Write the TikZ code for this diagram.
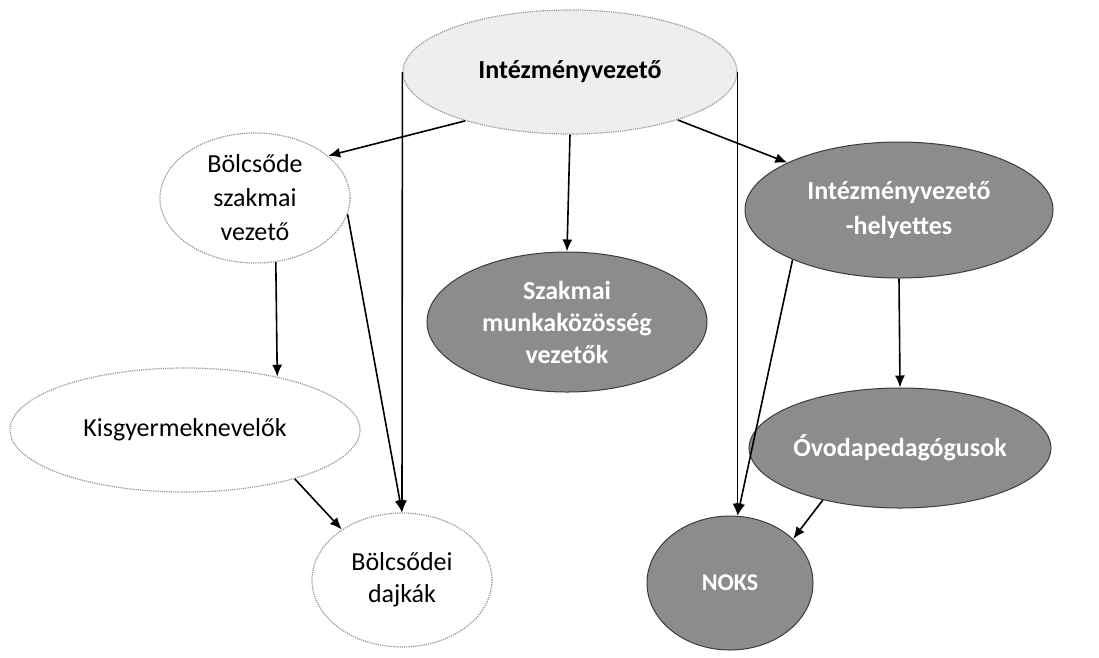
\documentclass[tikz,border=0pt]{standalone}
\usepackage{fontspec}
\setmainfont{Carlito}
\usetikzlibrary{shapes.geometric,arrows.meta}
\definecolor{nodegray}{RGB}{140,140,140}
\definecolor{edgegray}{RGB}{60,60,60}
\definecolor{dotgray}{RGB}{150,150,150}
\definecolor{topfill}{RGB}{238,238,238}
\tikzset{
  base/.style={ellipse, inner sep=0pt, align=center, font=\fontsize{26}{34}\selectfont},
  whitebox/.style={base, draw=dotgray, densely dotted, line width=1.2pt, fill=white, text=black},
  topbox/.style={base, draw=dotgray, densely dotted, line width=1.2pt, fill=topfill, text=black, font=\fontsize{26}{34}\selectfont\bfseries},
  graybox/.style={base, draw=edgegray, line width=1pt, fill=nodegray, text=white, font=\fontsize{26}{32}\selectfont\bfseries},
  conn/.style={draw=black, line width=1.6pt, -{Latex[length=12pt,width=10pt]}},
}
\begin{document}
\begin{tikzpicture}[x=1pt,y=-1pt]
\useasboundingbox (0,0) rectangle (1099,657);
\node[topbox, minimum width=334pt, minimum height=124pt] (iv) at (570,72) {Intézményvezető};
\node[whitebox, minimum width=190pt, minimum height=130pt] (bsv) at (255,198) {Bölcsőde\\szakmai\\vezető};
\node[graybox, minimum width=280pt, minimum height=140pt] (szm) at (567,322) {Szakmai\\munkaközösség\\vezetők};
\node[graybox, minimum width=308pt, minimum height=136pt, font=\fontsize{26}{35}\selectfont\bfseries] (ivh) at (899,210) {Intézményvezető\\-helyettes};
\node[whitebox, minimum width=350pt, minimum height=124pt] (kgy) at (185,430) {Kisgyermeknevelők};
\node[graybox, minimum width=286pt, minimum height=120pt] (ovp) at (900,448) {Óvodapedagógusok};
\node[graybox, minimum width=166pt, minimum height=134pt, font=\fontsize{24}{30}\selectfont\bfseries] (noks) at (730,583) {NOKS};
\node[whitebox, minimum width=180pt, minimum height=134pt, font=\fontsize{26}{32}\selectfont] (bd) at (402,580) {Bölcsődei\\dajkák};

\draw[conn] (iv.205) -- (bsv.30);
\draw[conn] (iv.south) -- (szm.north);
\draw[conn] (iv.-24) -- (ivh.157);
\draw[conn] (iv.west) -- (bd.north);
\draw[conn] (iv.east) -- (iv.east |- noks.north);
\draw[conn] (bsv.-72.5) -- (kgy.30.5);
\draw[conn] (bsv.-10) -- (bd.north);
\draw[conn] (kgy.-24.6) -- (bd.140.6);
\draw[conn] (ivh.south) -- (ovp.north);
\draw[conn] (ivh.205) -- (iv.east |- noks.north);
\draw[conn] (ovp.214) -- (noks.35.6);
\end{tikzpicture}
\end{document}
